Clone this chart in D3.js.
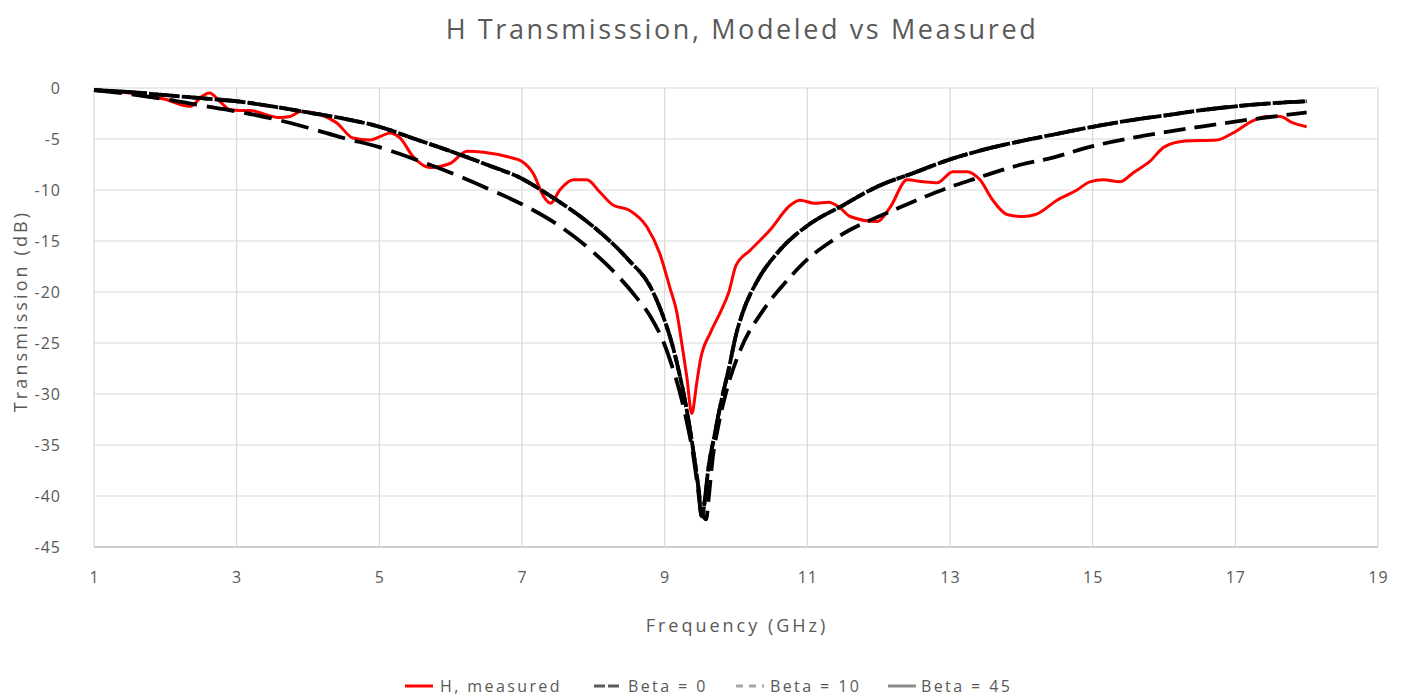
<!DOCTYPE html>
<html>
<head>
<meta charset="utf-8">
<script src="https://cdn.jsdelivr.net/npm/d3@7"></script>
<style>
  html, body { margin: 0; padding: 0; background: #ffffff; }
  svg text { font-family: "Open Sans", "Noto Sans", sans-serif; fill: #595959; }
</style>
</head>
<body>
<svg id="chart" width="1405" height="698"></svg>
<script>
// ---- data ----------------------------------------------------------------
const freqTicks = [1, 3, 5, 7, 9, 11, 13, 15, 17, 19];
const dbTicks = [0, -5, -10, -15, -20, -25, -30, -35, -40, -45];

// Measured H-plane transmission (GHz, dB)
const measuredFreq = [1, 1.5, 1.8, 2.0, 2.2, 2.35, 2.5, 2.62, 2.75, 2.9, 3.05, 3.19, 3.4, 3.6, 3.75, 3.9, 4.05, 4.17, 4.4, 4.63, 4.87, 5.0, 5.15, 5.29, 5.47, 5.7, 5.99, 6.23, 6.46, 6.83, 7.0, 7.16, 7.3, 7.4, 7.53, 7.72, 7.91, 8.09, 8.28, 8.51, 8.75, 8.93, 9.07, 9.17, 9.25, 9.31, 9.38, 9.45, 9.5, 9.64, 9.78, 9.9, 10.0, 10.2, 10.48, 10.76, 10.9, 11.1, 11.3, 11.45, 11.6, 11.98, 12.16, 12.4, 12.63, 12.82, 13.04, 13.24, 13.42, 13.6, 13.8, 14.02, 14.2, 14.5, 14.78, 14.96, 15.15, 15.38, 15.57, 15.8, 16.0, 16.3, 16.74, 16.97, 17.25, 17.44, 17.63, 17.8, 18.0];
const measuredDb = [-0.2, -0.5, -0.9, -1.1, -1.6, -1.8, -0.9, -0.5, -1.2, -2.1, -2.2, -2.2, -2.6, -2.9, -2.8, -2.3, -2.4, -2.6, -3.4, -4.9, -5.1, -4.8, -4.4, -4.9, -6.7, -7.8, -7.4, -6.2, -6.3, -6.8, -7.2, -8.4, -10.6, -11.3, -10.0, -9.0, -9.0, -10.2, -11.5, -12.0, -13.6, -16.2, -19.5, -22.0, -25.5, -28.3, -31.9, -28.9, -26.7, -24.0, -22.0, -20.0, -17.4, -15.9, -13.9, -11.5, -11.0, -11.3, -11.2, -11.7, -12.6, -13.1, -11.7, -9.0, -9.2, -9.3, -8.2, -8.2, -9.0, -11.0, -12.4, -12.6, -12.4, -11.0, -10.0, -9.2, -9.0, -9.2, -8.3, -7.2, -5.8, -5.2, -5.1, -4.4, -3.2, -2.8, -2.8, -3.4, -3.8];

// Modeled transmission, Beta = 0
const beta0Freq = [1, 1.5, 2, 2.5, 3, 3.5, 4, 4.5, 5, 5.5, 6, 6.5, 7, 7.5, 8, 8.3, 8.6, 8.8, 9.0, 9.1, 9.2, 9.3, 9.4, 9.47, 9.52, 9.57, 9.6, 9.7, 9.8, 9.9, 10.0, 10.1, 10.3, 10.6, 11, 11.5, 12, 12.5, 13, 13.5, 14, 14.5, 15, 15.5, 16, 16.5, 17, 17.5, 18];
const beta0Db = [-0.2, -0.6, -1.1, -1.7, -2.3, -3.0, -3.9, -4.9, -5.8, -7.0, -8.3, -9.8, -11.4, -13.4, -16.1, -18.1, -20.5, -22.4, -25.2, -27.2, -29.5, -32.4, -36.0, -39.5, -42.0, -40.0, -38.0, -34.0, -30.5, -27.5, -24.2, -21.9, -18.9, -16.0, -13.5, -11.5, -9.6, -8.3, -7.0, -6.0, -5.2, -4.5, -3.8, -3.2, -2.7, -2.2, -1.8, -1.5, -1.3];

// Modeled transmission, Beta = 10
const beta10Freq = [1, 1.5, 2, 2.5, 3, 3.5, 4, 4.5, 5, 5.5, 6, 6.5, 7, 7.4, 7.8, 8.2, 8.5, 8.8, 9.0, 9.1, 9.2, 9.3, 9.4, 9.47, 9.52, 9.58, 9.62, 9.67, 9.75, 9.87, 10.06, 10.38, 10.7, 11, 11.3, 11.6, 12.0, 12.3, 12.6, 13.0, 13.35, 13.7, 14.0, 14.4, 15.0, 15.7, 16.5, 17.2, 18];
const beta10Db = [-0.2, -0.4, -0.7, -1.0, -1.3, -1.8, -2.4, -3.0, -3.8, -5.0, -6.2, -7.5, -8.9, -10.6, -12.5, -14.8, -16.9, -19.5, -22.8, -25.0, -27.8, -31.2, -35.5, -39.0, -41.5, -42.3, -40.0, -36.5, -33.2, -29.6, -25.7, -21.8, -19.0, -16.8, -15.2, -13.9, -12.6, -11.7, -10.8, -9.7, -8.9, -8.1, -7.5, -6.9, -5.7, -4.7, -3.8, -3.1, -2.4];

// Modeled transmission, Beta = 45
const beta45Freq = [1, 1.5, 2, 2.5, 3, 3.5, 4, 4.5, 5, 5.5, 6, 6.5, 7, 7.4, 7.8, 8.2, 8.5, 8.8, 9.0, 9.1, 9.2, 9.3, 9.4, 9.47, 9.52, 9.57, 9.6, 9.7, 9.8, 9.9, 10.0, 10.1, 10.3, 10.6, 11, 11.5, 12, 12.5, 13, 13.5, 14, 14.5, 15, 15.5, 16, 16.5, 17, 17.5, 18];
const beta45Db = [-0.2, -0.4, -0.7, -1.0, -1.3, -1.8, -2.4, -3.0, -3.8, -5.0, -6.2, -7.5, -8.9, -10.6, -12.5, -14.8, -16.9, -19.5, -22.8, -25.0, -27.8, -31.2, -35.5, -39.0, -42.0, -40.0, -38.0, -34.0, -30.5, -27.5, -24.2, -21.9, -18.9, -16.0, -13.5, -11.5, -9.6, -8.3, -7.0, -6.0, -5.2, -4.5, -3.8, -3.2, -2.7, -2.2, -1.8, -1.5, -1.3];

const seriesNames = ["H, measured", "Beta = 0", "Beta = 10", "Beta = 45"];

// ---- series styling -----------------------------------------------------
const series = [
  { name: seriesNames[0], freq: measuredFreq, db: measuredDb, color: "#ff0000", width: 3, dash: null, key: "#ff0000", keyDash: null },
  { name: seriesNames[1], freq: beta0Freq, db: beta0Db, color: "#000000", width: 3.8, dash: "28,10", key: "#5a5a5a", keyDash: "11,3" },
  { name: seriesNames[2], freq: beta10Freq, db: beta10Db, color: "#000000", width: 3.8, dash: "22,9", key: "#a6a6a6", keyDash: "7,6" },
  { name: seriesNames[3], freq: beta45Freq, db: beta45Db, color: "#000000", width: 3.8, dash: "9,2", key: "#8c8c8c", keyDash: null }
];

// ---- layout ----------------------------------------------------------------
const svg = d3.select("#chart");
const plot = { left: 94, right: 1378, top: 88, bottom: 547 };

const x = d3.scaleLinear().domain([1, 19]).range([plot.left, plot.right]);
const y = d3.scaleLinear().domain([0, -45]).range([plot.top, plot.bottom]);

// title
svg.append("text")
  .attr("x", 742).attr("y", 39)
  .attr("text-anchor", "middle")
  .style("font-size", "27px")
  .style("letter-spacing", "2.6px")
  .text("H Transmisssion, Modeled vs Measured");

// gridlines
const grid = svg.append("g");
grid.selectAll("line.h").data(dbTicks).join("line")
  .attr("x1", plot.left).attr("x2", plot.right)
  .attr("y1", d => y(d)).attr("y2", d => y(d))
  .attr("stroke", d => d === -45 ? "#bfbfbf" : "#d9d9d9")
  .attr("stroke-width", d => d === -45 ? 1.5 : 1.2);
grid.selectAll("line.v").data(freqTicks).join("line")
  .attr("y1", plot.top).attr("y2", plot.bottom)
  .attr("x1", d => x(d)).attr("x2", d => x(d))
  .attr("stroke", "#d9d9d9")
  .attr("stroke-width", 1.2);

// axes (labels only, no tick marks); plain hyphen for negatives
const plainNumber = d => String(d);
const yAxis = d3.axisLeft(y).tickValues(dbTicks).tickSize(0).tickPadding(33).tickFormat(plainNumber);
svg.append("g").attr("transform", `translate(${plot.left},0)`).call(yAxis)
  .call(g => g.select(".domain").remove());

const xAxis = d3.axisBottom(x).tickValues(freqTicks).tickSize(0).tickPadding(25).tickFormat(plainNumber);
svg.append("g").attr("transform", `translate(0,${plot.bottom})`).call(xAxis)
  .call(g => g.select(".domain").remove());

svg.selectAll(".tick text")
  .attr("fill", "#595959")
  .style("font-family", '"Open Sans", "Noto Sans", sans-serif')
  .style("font-size", "16px")
  .style("letter-spacing", "1px");

// axis titles
svg.append("text")
  .attr("x", 737).attr("y", 632)
  .attr("text-anchor", "middle")
  .style("font-size", "18px")
  .style("letter-spacing", "3px")
  .text("Frequency (GHz)");

svg.append("text")
  .attr("transform", "translate(27,311) rotate(-90)")
  .attr("text-anchor", "middle")
  .style("font-size", "18px")
  .style("letter-spacing", "3.1px")
  .text("Transmission (dB)");

// series lines
const line = d3.line()
  .x(d => x(d[0]))
  .y(d => y(d[1]))
  .curve(d3.curveMonotoneX);

const lines = svg.append("g");
series.forEach(s => {
  const pts = s.freq.map((f, i) => [f, s.db[i]]);
  lines.append("path")
    .datum(pts)
    .attr("d", line)
    .attr("fill", "none")
    .attr("stroke", s.color)
    .attr("stroke-width", s.width)
    .attr("stroke-dasharray", s.dash)
    .attr("stroke-linejoin", "round");
});

// legend
const legendPos = [
  { sx: 405, tx: 440 },
  { sx: 594, tx: 628 },
  { sx: 736, tx: 770 },
  { sx: 888, tx: 921 }
];
const legend = svg.append("g");
series.forEach((s, i) => {
  const p = legendPos[i];
  legend.append("line")
    .attr("x1", p.sx).attr("x2", p.sx + 28)
    .attr("y1", 686).attr("y2", 686)
    .attr("stroke", s.key)
    .attr("stroke-width", 3)
    .attr("stroke-dasharray", s.keyDash);
  legend.append("text")
    .attr("x", p.tx).attr("y", 692)
    .style("font-size", "16px")
    .style("letter-spacing", "2.4px")
    .text(s.name);
});
</script>
</body>
</html>
